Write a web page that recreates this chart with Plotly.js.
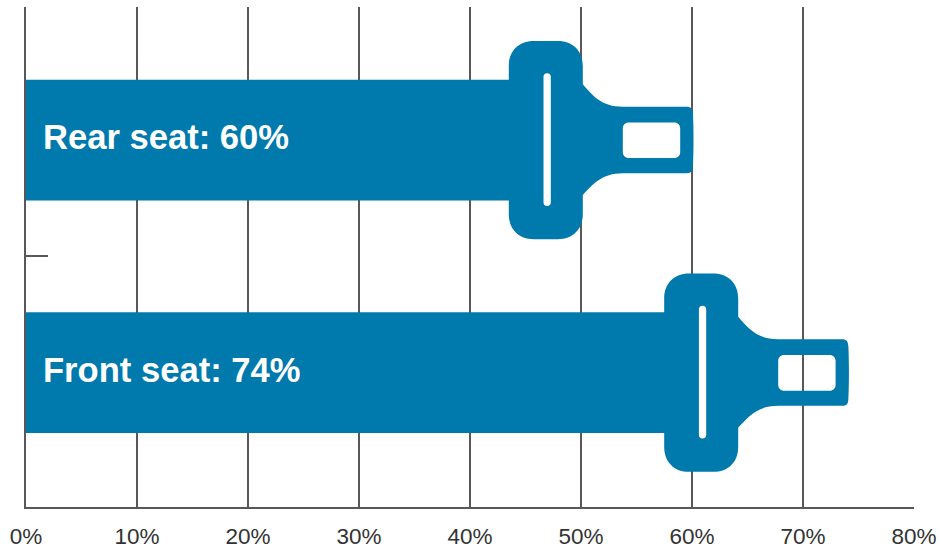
<!DOCTYPE html>
<html>
<head>
<meta charset="utf-8">
<script src="https://cdn.plot.ly/plotly-3.0.1.min.js"></script>
<style>html,body{margin:0;padding:0;background:#fff}</style>
</head>
<body>
<div id="chart" style="width:940px;height:548px"></div>
<script>
// Data
const seats = ['Front seat', 'Rear seat'];
const seatValues = [74, 60];
const seatPositions = [0, 1];
const xTickValues = [0, 10, 20, 30, 40, 50, 60, 70, 80];
const xTickLabels = ['0%', '10%', '20%', '30%', '40%', '50%', '60%', '70%', '80%'];

// Style
const BLUE = '#0079ad';
const GRID = '#58585a';
const TEXT = '#333333';
const PLOT = {l: 26, r: 26, t: 6.5, b: 40.7};
const XRANGE = [0, 80];
const YRANGE = [-0.5775, 1.5725];
const pxPerX = (940 - PLOT.l - PLOT.r) / (XRANGE[1] - XRANGE[0]);
const pxPerY = (548 - PLOT.t - PLOT.b) / (YRANGE[1] - YRANGE[0]);

// Buckle body starts this many percentage points before the value
const BUCKLE_LEN = 16.4;
const strapValues = seatValues.map(v => v - BUCKLE_LEN);

// Buckle outline in pixel offsets from the tip of the tongue and the bar centre
const k = 0.6;
function roundedRect(x0, y0, x1, y1, r) {
  const c = r * (1 - k);
  return [
    ['M', x0 + r, y0], ['L', x1 - r, y0],
    ['C', x1 - c, y0, x1, y0 + c, x1, y0 + r],
    ['L', x1, y1 - r],
    ['C', x1, y1 - c, x1 - c, y1, x1 - r, y1],
    ['L', x0 + r, y1],
    ['C', x0 + c, y1, x0, y1 - c, x0, y1 - r],
    ['L', x0, y0 + r],
    ['C', x0, y0 + c, x0 + c, y0, x0 + r, y0],
    ['Z']
  ];
}
const bL = -184.7, bR = -110.7, bT = -99.3, bB = 99.3, bRad = 25;
const bC = bRad * (1 - k);
const outline = [
  ['M', bL + bRad, bT], ['L', bR - bRad, bT],
  ['C', bR - bC, bT, bR, bT + bC, bR, bT + bRad],
  ['L', bR, -56],
  ['C', -100.7, -44.5, -92, -33.5, -70.7, -33.5],
  ['L', -7, -33.5],
  ['C', -2, -33.5, -0.8, -31, -0.5, -26],
  ['C', 0.2, -10, 0.2, 10, -0.5, 26],
  ['C', -0.8, 31, -2, 33.2, -7, 33.2],
  ['L', -70.7, 33.2],
  ['C', -92, 33.2, -100.7, 44.5, bR, 55],
  ['L', bR, bB - bRad],
  ['C', bR, bB - bC, bR - bC, bB, bR - bRad, bB],
  ['L', bL + bRad, bB],
  ['C', bL + bC, bB, bL, bB - bC, bL, bB - bRad],
  ['L', bL, bT + bRad],
  ['C', bL, bT + bC, bL + bC, bT, bL + bRad, bT],
  ['Z']
];
const buckleParts = outline
  .concat(roundedRect(-70.7, -17.6, -13.3, 18, 6))
  .concat(roundedRect(-150, -67, -142.7, 66, 3.6));

function bucklePath(value, pos) {
  return buckleParts.map(seg => {
    const out = [seg[0]];
    for (let i = 1; i < seg.length; i += 2) {
      out.push((value + (seg[i] + 1.5) / pxPerX).toFixed(4));
      out.push((pos - seg[i + 1] / pxPerY).toFixed(4));
    }
    return out[0] + out.slice(1).join(',');
  }).join(' ');
}

const trace = {
  type: 'bar', orientation: 'h',
  x: strapValues, y: seatPositions,
  width: 121 / pxPerY,
  marker: {color: BLUE, line: {width: 0}},
  customdata: seats.map((s, i) => s + ': ' + seatValues[i] + '%'),
  hovertemplate: '%{customdata}<extra></extra>'
};

const layout = {
  width: 940, height: 548,
  margin: {l: PLOT.l, r: PLOT.r, t: PLOT.t, b: PLOT.b, pad: 0},
  paper_bgcolor: '#fff', plot_bgcolor: '#fff',
  showlegend: false,
  font: {family: 'Liberation Sans, sans-serif', color: TEXT},
  xaxis: {
    range: XRANGE, tickmode: 'array', tickvals: xTickValues, ticktext: xTickLabels,
    showgrid: true, gridcolor: GRID, gridwidth: 2.4, zeroline: false,
    showline: true, linecolor: GRID, linewidth: 2.4, ticks: '',
    tickfont: {family: 'Liberation Sans, sans-serif', size: 22.5, color: TEXT},
    ticklabelstandoff: 8, fixedrange: true
  },
  yaxis: {
    range: YRANGE, tickmode: 'array', tickvals: [0.5], ticktext: [''],
    showgrid: false, zeroline: false, showline: true, linecolor: GRID, linewidth: 2.4,
    ticks: 'inside', ticklen: 22, tickwidth: 2.4, tickcolor: GRID, fixedrange: true
  },
  shapes: seatValues.map((v, i) => ({
    type: 'path', xref: 'x', yref: 'y', layer: 'above',
    path: bucklePath(v, seatPositions[i]),
    fillcolor: BLUE, fillrule: 'evenodd', line: {width: 0}
  })),
  annotations: seats.map((s, i) => ({
    xref: 'x', yref: 'y', x: 0, y: seatPositions[i], xanchor: 'left', yanchor: 'middle',
    xshift: 15, yshift: 3, showarrow: false,
    text: '<b>' + s + ': ' + seatValues[i] + '%</b>',
    font: {family: 'Liberation Sans, sans-serif', size: 34.6, color: '#ffffff'}
  }))
};

Plotly.newPlot('chart', [trace], layout, {displayModeBar: false, staticPlot: false});
</script>
</body>
</html>
